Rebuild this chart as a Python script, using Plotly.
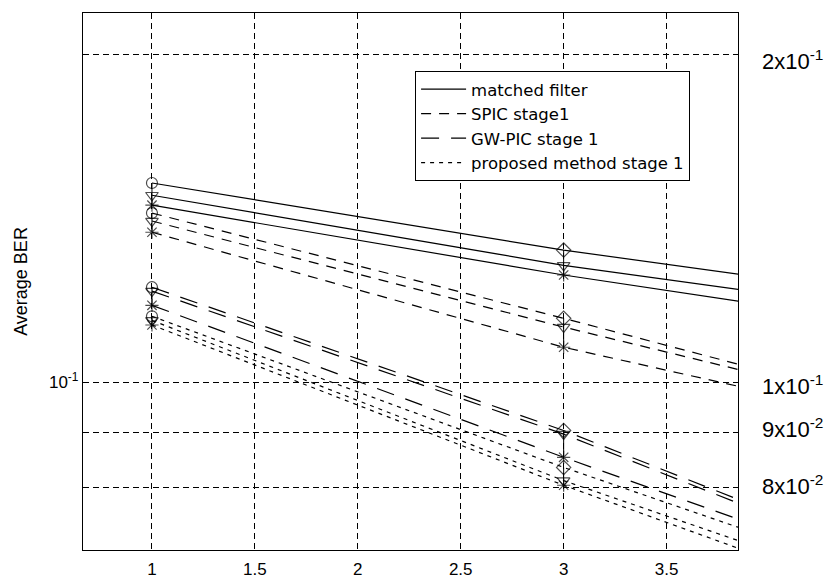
import math
import plotly.graph_objects as go

# ---------------- data ----------------
snr = [1, 3, 4]

# three curves per method (top, middle, bottom)
matched_filter = [
    [0.1525, 0.1323, 0.1246],
    [0.1486, 0.1281, 0.1206],
    [0.1455, 0.1255, 0.1176],
]
spic_stage1 = [
    [0.1431, 0.1145, 0.1021],
    [0.1407, 0.1124, 0.1011],
    [0.1374, 0.1077, 0.0977],
]
gwpic_stage1 = [
    [0.1223, 0.0903, 0.0760],
    [0.1213, 0.0896, 0.0754],
    [0.1177, 0.0853, 0.0731],
]
proposed_stage1 = [
    [0.1150, 0.0835, 0.0719],
    [0.1140, 0.0812, 0.0699],
    [0.1129, 0.0804, 0.0687],
]

method_names = ["matched filter", "SPIC stage1", "GW-PIC stage 1", "proposed method stage 1"]

x_tick_vals = [1, 1.5, 2, 2.5, 3, 3.5]
x_tick_text = ["1", "1.5", "2", "2.5", "3", "3.5"]
y_major_vals = [0.1]
y_major_text = ["10<sup>-1</sup>"]
y_minor_vals = [0.08, 0.09, 0.2]

right_label_vals = [0.2, 0.1, 0.09, 0.08]
right_label_text = ["2x10<sup>-1</sup>", "1x10<sup>-1</sup>", "9x10<sup>-2</sup>", "8x10<sup>-2</sup>"]

# ---------------- styling ----------------
dashes = ["solid", "10px,8px", "18px,12px", "4px,5px"]
marker_rows = [
    ["circle-open", "diamond-open", "circle-open"],
    ["triangle-down-open"] * 3,
    ["asterisk-open"] * 3,
]
marker_sizes = [11, 11, 0]

fig = go.Figure()

all_methods = [matched_filter, spic_stage1, gwpic_stage1, proposed_stage1]

# vertical connectors through each marker cluster (at the measured points)
for curves in all_methods:
    for i in range(2):
        fig.add_trace(go.Scatter(
            x=[snr[i], snr[i]], y=[curves[0][i], curves[-1][i]], mode="lines",
            line=dict(color="black", width=1),
            showlegend=False, hoverinfo="skip",
        ))

for m, curves in enumerate(all_methods):
    for k, vals in enumerate(curves):
        fig.add_trace(go.Scatter(
            x=snr, y=vals, mode="lines+markers",
            line=dict(color="black", width=1.2, dash=dashes[m]),
            marker=dict(symbol=marker_rows[k], size=marker_sizes, color="black",
                        line=dict(color="black", width=1.2)),
            showlegend=False, hoverinfo="skip",
        ))

# legend entries (lines only)
for m, name in enumerate(method_names):
    fig.add_trace(go.Scatter(
        x=[None], y=[None], mode="lines", name=name,
        line=dict(color="black", width=1.2, dash=dashes[m]),
        showlegend=True,
    ))

annotations = []
right_shift = [-5, -3, 4, 3]
for v, t, s in zip(right_label_vals, right_label_text, right_shift):
    annotations.append(dict(
        x=1.0336, xref="paper", xanchor="left",
        y=math.log10(v), yref="y", yanchor="middle", yshift=s,
        text=t, showarrow=False,
        font=dict(family="Liberation Sans, Arial", size=22, color="black"),
    ))

grid_dash = "6px,4px"
fig.update_layout(
    width=829, height=579,
    margin=dict(l=83, r=91, t=13, b=29, autoexpand=False),
    paper_bgcolor="white", plot_bgcolor="white",
    font=dict(family="Liberation Sans, Arial", size=17, color="black"),
    xaxis=dict(
        range=[0.665, 3.847], automargin=False,
        tickvals=x_tick_vals, ticktext=x_tick_text,
        showgrid=True, gridcolor="black", griddash=grid_dash, gridwidth=1,
        showline=True, linecolor="black", linewidth=1.3, mirror=True,
        ticks="outside", ticklen=3, tickcolor="white",
        zeroline=False,
        tickfont=dict(size=17),
    ),
    yaxis=dict(
        type="log", automargin=False,
        range=[math.log10(0.0701), math.log10(0.2186)],
        tickvals=y_major_vals, ticktext=y_major_text,
        showgrid=True, gridcolor="black", griddash=grid_dash, gridwidth=1,
        minor=dict(tickvals=y_minor_vals, showgrid=True, gridcolor="black",
                   griddash=grid_dash, gridwidth=1, ticks=""),
        showline=True, linecolor="black", linewidth=1.3, mirror=True,
        ticks="", zeroline=False,
        title=dict(text="Average BER", font=dict(size=18), standoff=16),
        tickfont=dict(size=17),
    ),
    legend=dict(
        x=0.507, y=0.892, xanchor="left", yanchor="top",
        bgcolor="white", bordercolor="black", borderwidth=1,
        font=dict(family="DejaVu Sans, Arial", size=16.5, color="black"),
        itemwidth=45, tracegroupgap=0,
    ),
    annotations=annotations,
)

fig.write_html("out.html")
